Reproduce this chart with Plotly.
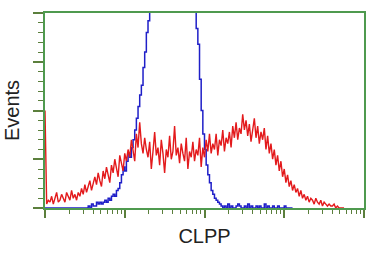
import plotly.graph_objects as go

CH_PER_DECADE = 48

red_counts = [0, 50,
    2, 4, 3, 6, 2, 5, 8, 3, 4, 7,
    5, 3, 8, 6, 4, 9, 5, 7, 4, 8,
    6, 10, 7, 12, 8, 11, 14, 9, 13, 16,
    12, 18, 14, 11, 19, 15, 21, 17, 13, 22,
    18, 25, 20, 16, 27, 22, 19, 28, 24, 30,
    26, 35, 29, 24, 38, 31, 44, 33, 28, 36,
    30, 26, 34, 20, 29, 39, 27, 31, 22, 35,
    28, 18, 30, 26, 37, 25, 29, 42, 27, 31,
    23, 33, 28, 24, 36, 20, 29, 26, 34, 24,
    30, 27, 36, 21, 31, 26, 35, 29, 38, 28,
    33, 30, 38, 27, 35, 32, 40, 29, 36, 33,
    39, 31, 42, 36, 44, 35, 41, 38, 48, 40,
    45, 37, 43, 34, 40, 46, 36, 42, 33, 39,
    35, 41, 30, 37, 28, 33, 25, 30, 22, 27,
    19, 24, 16, 20, 13, 17, 11, 14, 9, 12,
    8, 10, 6, 9, 5, 7, 4, 6, 3, 5,
    4, 2, 5, 3, 2, 4, 1, 3, 2, 1,
    2, 1, 1, 2, 0, 1, 0, 0, 0, 0]

blue_counts = [0,
    0, 0, 0, 0, 0, 0, 0, 0, 0, 0, 0, 0, 0, 0, 0, 0, 0, 0, 0, 0, 0, 0, 0, 0, 0, 0,
    1, 0, 2, 1, 1, 3, 2, 3, 2, 3, 4, 3, 5, 4, 6, 7, 6, 9,
    10, 13, 17, 21, 19, 24, 28, 26, 31, 35, 40, 46, 52, 58,
    63, 72, 80, 90, 96, 105,
    112, 118, 124, 130, 136, 140, 144, 147, 150, 152, 150, 148, 146,
    143, 140, 137, 134, 130, 127, 124, 120, 117, 114, 110, 107, 104,
    101, 92, 84, 66, 50, 38, 30, 22, 17, 13, 9, 7, 5, 4, 3, 2, 1,
    0, 1, 0, 2, 0, 1, 0, 0, 1, 2, 1, 0, 0, 1, 0, 2, 0, 1, 0, 0,
    1, 0, 1, 0, 0, 2, 0, 1, 0, 0, 1, 0, 0, 1, 0, 0, 0, 1, 0,
    0, 0, 0, 0]

x_title = "CLPP"
y_title = "Events"

def channel_x(n):
    return [10 ** ((k - 1) / CH_PER_DECADE) for k in range(n)]

axis_green = "#4f9a4f"
tick_col = "#5b7f3c"

fig = go.Figure()
fig.add_trace(go.Scatter(x=channel_x(len(blue_counts)), y=blue_counts, mode="lines",
                         line=dict(color="#1f1fc8", width=1.5, shape="hv"), showlegend=False))
fig.add_trace(go.Scatter(x=channel_x(len(red_counts)), y=red_counts, mode="lines",
                         line=dict(color="#e31a1c", width=1.4, shape="linear"), showlegend=False))

fig.update_layout(
    width=385, height=256,
    margin=dict(l=45, r=21, t=13, b=48),
    paper_bgcolor="white", plot_bgcolor="white",
    font=dict(family="Liberation Sans, Arial", size=17, color="#222"),
)
fig.update_xaxes(type="log", range=[0, 4], showgrid=False, zeroline=False,
                 showline=True, linecolor=axis_green, linewidth=2, mirror=True,
                 ticks="outside", ticklen=8, tickcolor=tick_col, tickwidth=1.5, dtick=1,
                 showticklabels=False,
                 minor=dict(ticks="outside", ticklen=4, tickcolor=tick_col, tickwidth=1, dtick="D1", showgrid=False),
                 title=dict(text=x_title, standoff=12))
fig.update_yaxes(range=[0, 100], showgrid=False, zeroline=False,
                 showline=True, linecolor=axis_green, linewidth=2, mirror=True,
                 ticks="outside", ticklen=10, tickcolor=tick_col, tickwidth=1.5, dtick=25,
                 showticklabels=False,
                 minor=dict(ticks="outside", ticklen=5, tickcolor=tick_col, tickwidth=1, dtick=5, showgrid=False),
                 title=dict(text=y_title, standoff=8))

fig.write_html("out.html")
